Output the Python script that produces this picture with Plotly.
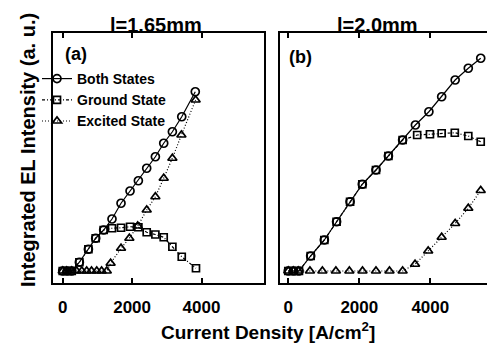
import plotly.graph_objects as go

# ---------------- data ----------------
# Panel (a): l = 1.65 mm
both_a_x = [0, 130, 260, 480, 740, 950, 1180, 1420, 1680, 1940, 2180, 2420, 2670, 2910, 3160, 3430, 3820]
both_a_y = [4.8, 4.8, 4.8, 8.3, 13.5, 17.9, 21.2, 25.6, 31.9, 36.8, 40.9, 45.9, 50.5, 55.9, 60.5, 66.5, 76.5]
ground_a_x = [0, 130, 260, 480, 740, 950, 1180, 1420, 1680, 1940, 2180, 2420, 2670, 2910, 3160, 3430, 3840]
ground_a_y = [4.8, 4.8, 4.8, 8.3, 13.5, 17.9, 21.2, 21.9, 22.1, 22.5, 22.3, 20.3, 19.4, 18.3, 14.5, 10.5, 5.9]
excited_a_x = [0, 110, 260, 400, 550, 690, 830, 980, 1120, 1270, 1380, 1680, 1920, 2160, 2420, 2670, 2910, 3160, 3420, 3830]
excited_a_y = [4.8, 4.8, 4.8, 4.8, 4.8, 4.8, 4.8, 4.8, 4.8, 4.8, 7.9, 13.9, 17.9, 22.8, 29.2, 34.5, 41.9, 49.9, 59.2, 73.2]

# Panel (b): l = 2.0 mm
both_b_x = [0, 150, 300, 630, 1015, 1360, 1740, 2085, 2470, 2820, 3220, 3580, 3960, 4320, 4700, 5070, 5420]
both_b_y = [4.8, 4.8, 4.8, 10.8, 17.2, 24.5, 32.5, 39.5, 45.2, 50.8, 57.2, 63.2, 68.5, 74.5, 81.2, 85.9, 89.9]
ground_b_x = [0, 150, 300, 630, 1015, 1360, 1740, 2085, 2470, 2820, 3220, 3630, 3990, 4320, 4690, 5070, 5420]
ground_b_y = [4.8, 4.8, 4.8, 10.8, 17.2, 24.5, 32.5, 39.5, 45.2, 50.8, 57.2, 59.2, 59.5, 59.9, 60.1, 58.8, 56.5]
excited_b_x = [0, 140, 280, 610, 960, 1340, 1720, 2090, 2470, 2850, 3220, 3570, 3940, 4320, 4700, 5070, 5420]
excited_b_y = [4.8, 4.8, 4.8, 4.8, 4.8, 4.8, 4.8, 4.8, 4.8, 4.8, 4.8, 7.5, 12.8, 18.3, 23.8, 29.9, 37.0]

tick_vals = [0, 2000, 4000]
tick_text = ["0", "2000", "4000"]
series_names = ["Both States", "Ground State", "Excited State"]
panel_titles = ["l=1.65mm", "l=2.0mm"]
panel_tags = ["(a)", "(b)"]
x_title = "Current Density [A/cm<sup>2</sup>]"
y_title = "Integrated EL Intensity (a. u.)"

# ---------------- figure ----------------
FONT = "Liberation Sans"
W, H = 487, 345
ML, MR, MT, MB = 53, 0, 33, 62
pw = W - ML - MR
ph = H - MT - MB

def px(xp):
    return (xp - ML) / pw

def py(yp):
    return (H - MB - yp) / ph

styles = [
    dict(dash="solid", symbol="circle-open", size=8),
    dict(dash="3px,2px,1px,2px", symbol="square-open", size=7),
    dict(dash="1px,2px", symbol="triangle-up-open", size=8),
]

fig = go.Figure()
panels = [
    ("x", "y", [(both_a_x, both_a_y), (ground_a_x, ground_a_y), (excited_a_x, excited_a_y)], True),
    ("x2", "y2", [(both_b_x, both_b_y), (ground_b_x, ground_b_y), (excited_b_x, excited_b_y)], False),
]
for xa, ya, series, show in panels:
    for (xs, ys), name, st in zip(series, series_names, styles):
        fig.add_trace(go.Scatter(
            x=xs, y=ys, xaxis=xa, yaxis=ya, name=name, mode="lines+markers",
            showlegend=show,
            line=dict(color="black", width=1.2, dash=st["dash"]),
            marker=dict(symbol=st["symbol"], size=st["size"], color="black",
                        line=dict(color="black", width=1.7)),
        ))

axis_common = dict(
    showline=True, linecolor="black", linewidth=2, showgrid=False, zeroline=False,
)
xcommon = dict(axis_common, tickvals=tick_vals, ticktext=tick_text, ticks="inside",
               ticklen=5, tickwidth=2, tickcolor="black", mirror="ticks",
               tickfont=dict(family=FONT, size=17, color="black", weight="bold"),
               ticklabelstandoff=8)
ycommon = dict(axis_common, showticklabels=False, ticks="", range=[0, 100])

fig.update_layout(
    width=W, height=H,
    margin=dict(l=ML, r=MR, t=MT, b=MB),
    paper_bgcolor="white", plot_bgcolor="white",
    xaxis=dict(xcommon, domain=[0, px(264)], range=[-280, 5800], anchor="y"),
    xaxis2=dict(xcommon, domain=[px(280), 1], range=[-234, 5597], anchor="y2"),
    yaxis=dict(ycommon, mirror=True, anchor="x"),
    yaxis2=dict(ycommon, mirror=False, anchor="x2"),
    legend=dict(x=px(37), y=py(63), xanchor="left", yanchor="top",
                bgcolor="rgba(0,0,0,0)", borderwidth=0,
                font=dict(family=FONT, size=14, color="black", weight="bold"),
                tracegroupgap=0),
    font=dict(family=FONT, color="black"),
)

ann_font = lambda s: dict(family=FONT, size=s, color="black", weight="bold")
fig.add_annotation(text=panel_titles[0], x=px(156), y=py(25), xref="paper", yref="paper",
                   showarrow=False, font=ann_font(20), xanchor="center", yanchor="middle")
fig.add_annotation(text=panel_titles[1], x=px(377), y=py(25), xref="paper", yref="paper",
                   showarrow=False, font=ann_font(20), xanchor="center", yanchor="middle")
fig.add_annotation(text=panel_tags[0], x=px(76), y=py(54), xref="paper", yref="paper",
                   showarrow=False, font=ann_font(18), xanchor="center", yanchor="middle")
fig.add_annotation(text=panel_tags[1], x=px(300), y=py(57), xref="paper", yref="paper",
                   showarrow=False, font=ann_font(18), xanchor="center", yanchor="middle")
fig.add_annotation(text=x_title, x=px(268), y=py(331), xref="paper", yref="paper",
                   showarrow=False, font=ann_font(19), xanchor="center", yanchor="middle")
fig.add_annotation(text=y_title, x=px(28), y=py(150), xref="paper", yref="paper",
                   showarrow=False, font=ann_font(20), textangle=-90,
                   xanchor="center", yanchor="middle")

fig.write_html("out.html", post_script="document.body.style.margin='0';",
               config={"displayModeBar": False})
